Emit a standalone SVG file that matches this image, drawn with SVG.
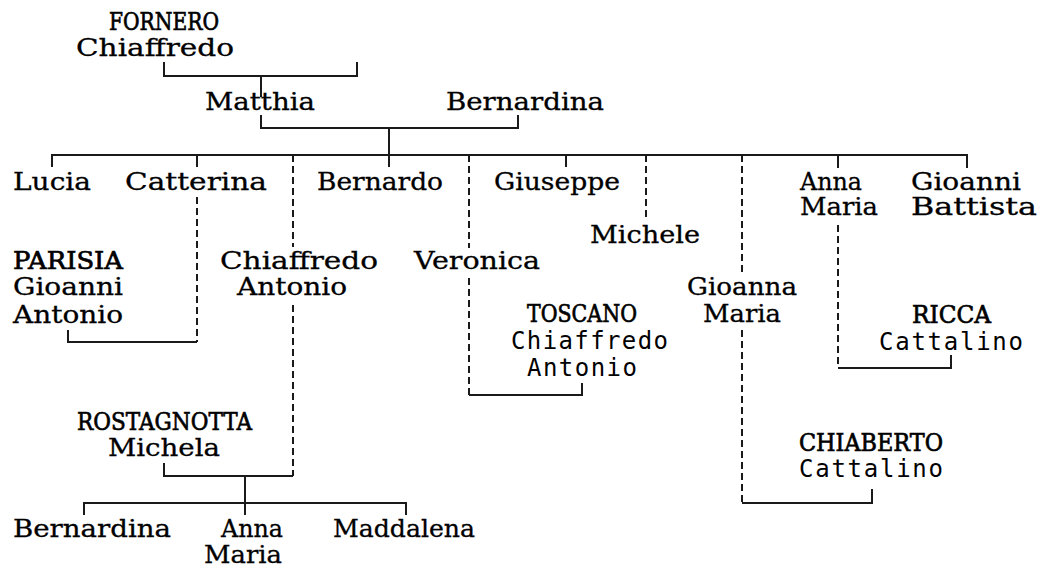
<svg xmlns="http://www.w3.org/2000/svg" width="1046" height="569" viewBox="0 0 1046 569">
<style>
.s{font-family:"DejaVu Serif",serif;font-size:24px;fill:#000;stroke:#000;stroke-width:0.3}
.u{font-size:25px;stroke-width:0.7}
.m{font-family:"DejaVu Sans Mono","Liberation Mono",monospace;font-size:24px;fill:#000}
.l{fill:none;stroke:#1a1a1a;stroke-width:2}
.d{fill:none;stroke:#1a1a1a;stroke-width:2;stroke-dasharray:7 4}
</style>
<rect width="1046" height="569" fill="#fff"/>
<g id="connectors">
<path class="l" d="M164,62V76H357V62"/>
<path class="l" d="M261,76V97"/>
<path class="l" d="M261,115V128H518V115"/>
<path class="l" d="M389,128V155"/>
<path class="l" d="M52,167V155H967V168"/>
<path class="l" d="M197,155V167M389,155V167M566,155V167M838,155V168"/>
<path class="d" d="M293,155V247"/>
<path class="d" d="M469,155V248"/>
<path class="d" d="M646,155V218"/>
<path class="d" d="M742,155V273"/>
<path class="d" d="M197,197V342"/>
<path class="l" d="M68,330V342H197"/>
<path class="d" d="M469,278V395"/>
<path class="l" d="M469,395H582V383"/>
<path class="d" d="M838,225V368"/>
<path class="l" d="M838,368H951V355"/>
<path class="d" d="M742,330V503"/>
<path class="l" d="M742,503H872V489"/>
<path class="d" d="M293,305V476"/>
<path class="l" d="M164,463V476H293"/>
<path class="l" d="M245,476V503"/>
<path class="l" d="M84,515V503H406V515M245,503V515"/>
</g>
<g id="fornero_chiaffredo"><text class="s u" x="109" y="30" textLength="110" lengthAdjust="spacingAndGlyphs">FORNERO</text><text class="s" x="76" y="56" textLength="158" lengthAdjust="spacingAndGlyphs">Chiaffredo</text></g>
<g id="matthia"><text class="s" x="205" y="110" textLength="110" lengthAdjust="spacingAndGlyphs">Matthia</text></g>
<g id="bernardina1"><text class="s" x="446" y="110" textLength="158" lengthAdjust="spacingAndGlyphs">Bernardina</text></g>
<g id="lucia"><text class="s" x="13" y="190" textLength="78" lengthAdjust="spacingAndGlyphs">Lucia</text></g>
<g id="catterina"><text class="s" x="125" y="190" textLength="142" lengthAdjust="spacingAndGlyphs">Catterina</text></g>
<g id="bernardo"><text class="s" x="317" y="190" textLength="126" lengthAdjust="spacingAndGlyphs">Bernardo</text></g>
<g id="giuseppe"><text class="s" x="494" y="190" textLength="126" lengthAdjust="spacingAndGlyphs">Giuseppe</text></g>
<g id="anna_maria1"><text class="s" x="800" y="190" textLength="62" lengthAdjust="spacingAndGlyphs">Anna</text><text class="s" x="800" y="215" textLength="78" lengthAdjust="spacingAndGlyphs">Maria</text></g>
<g id="gioanni_battista"><text class="s" x="911" y="190" textLength="110" lengthAdjust="spacingAndGlyphs">Gioanni</text><text class="s" x="911" y="215" textLength="126" lengthAdjust="spacingAndGlyphs">Battista</text></g>
<g id="michele"><text class="s" x="590" y="243" textLength="110" lengthAdjust="spacingAndGlyphs">Michele</text></g>
<g id="parisia"><text class="s u" x="13" y="269" textLength="110" lengthAdjust="spacingAndGlyphs">PARISIA</text><text class="s" x="13" y="295" textLength="110" lengthAdjust="spacingAndGlyphs">Gioanni</text><text class="s" x="13" y="323" textLength="110" lengthAdjust="spacingAndGlyphs">Antonio</text></g>
<g id="chiaffredo_antonio"><text class="s" x="220" y="269" textLength="158" lengthAdjust="spacingAndGlyphs">Chiaffredo</text><text class="s" x="237" y="295" textLength="110" lengthAdjust="spacingAndGlyphs">Antonio</text></g>
<g id="veronica"><text class="s" x="414" y="269" textLength="126" lengthAdjust="spacingAndGlyphs">Veronica</text></g>
<g id="gioanna_maria"><text class="s" x="687" y="295" textLength="110" lengthAdjust="spacingAndGlyphs">Gioanna</text><text class="s" x="703" y="322" textLength="78" lengthAdjust="spacingAndGlyphs">Maria</text></g>
<g id="toscano"><text class="s u" x="527" y="322" textLength="110" lengthAdjust="spacingAndGlyphs">TOSCANO</text><text class="m" x="511" y="349" textLength="157" lengthAdjust="spacing">Chiaffredo</text><text class="m" x="527" y="376" textLength="110" lengthAdjust="spacing">Antonio</text></g>
<g id="ricca"><text class="s u" x="912" y="323" textLength="79" lengthAdjust="spacingAndGlyphs">RICCA</text><text class="m" x="879" y="350" textLength="144" lengthAdjust="spacing">Cattalino</text></g>
<g id="rostagnotta"><text class="s u" x="77" y="430" textLength="175" lengthAdjust="spacingAndGlyphs">ROSTAGNOTTA</text><text class="s" x="108" y="456" textLength="112" lengthAdjust="spacingAndGlyphs">Michela</text></g>
<g id="chiaberto"><text class="s u" x="799" y="451" textLength="144" lengthAdjust="spacingAndGlyphs">CHIABERTO</text><text class="m" x="799" y="477" textLength="144" lengthAdjust="spacing">Cattalino</text></g>
<g id="bernardina2"><text class="s" x="13" y="537" textLength="158" lengthAdjust="spacingAndGlyphs">Bernardina</text></g>
<g id="anna_maria2"><text class="s" x="221" y="537" textLength="62" lengthAdjust="spacingAndGlyphs">Anna</text><text class="s" x="204" y="563" textLength="78" lengthAdjust="spacingAndGlyphs">Maria</text></g>
<g id="maddalena"><text class="s" x="333" y="537" textLength="142" lengthAdjust="spacingAndGlyphs">Maddalena</text></g>
</svg>
